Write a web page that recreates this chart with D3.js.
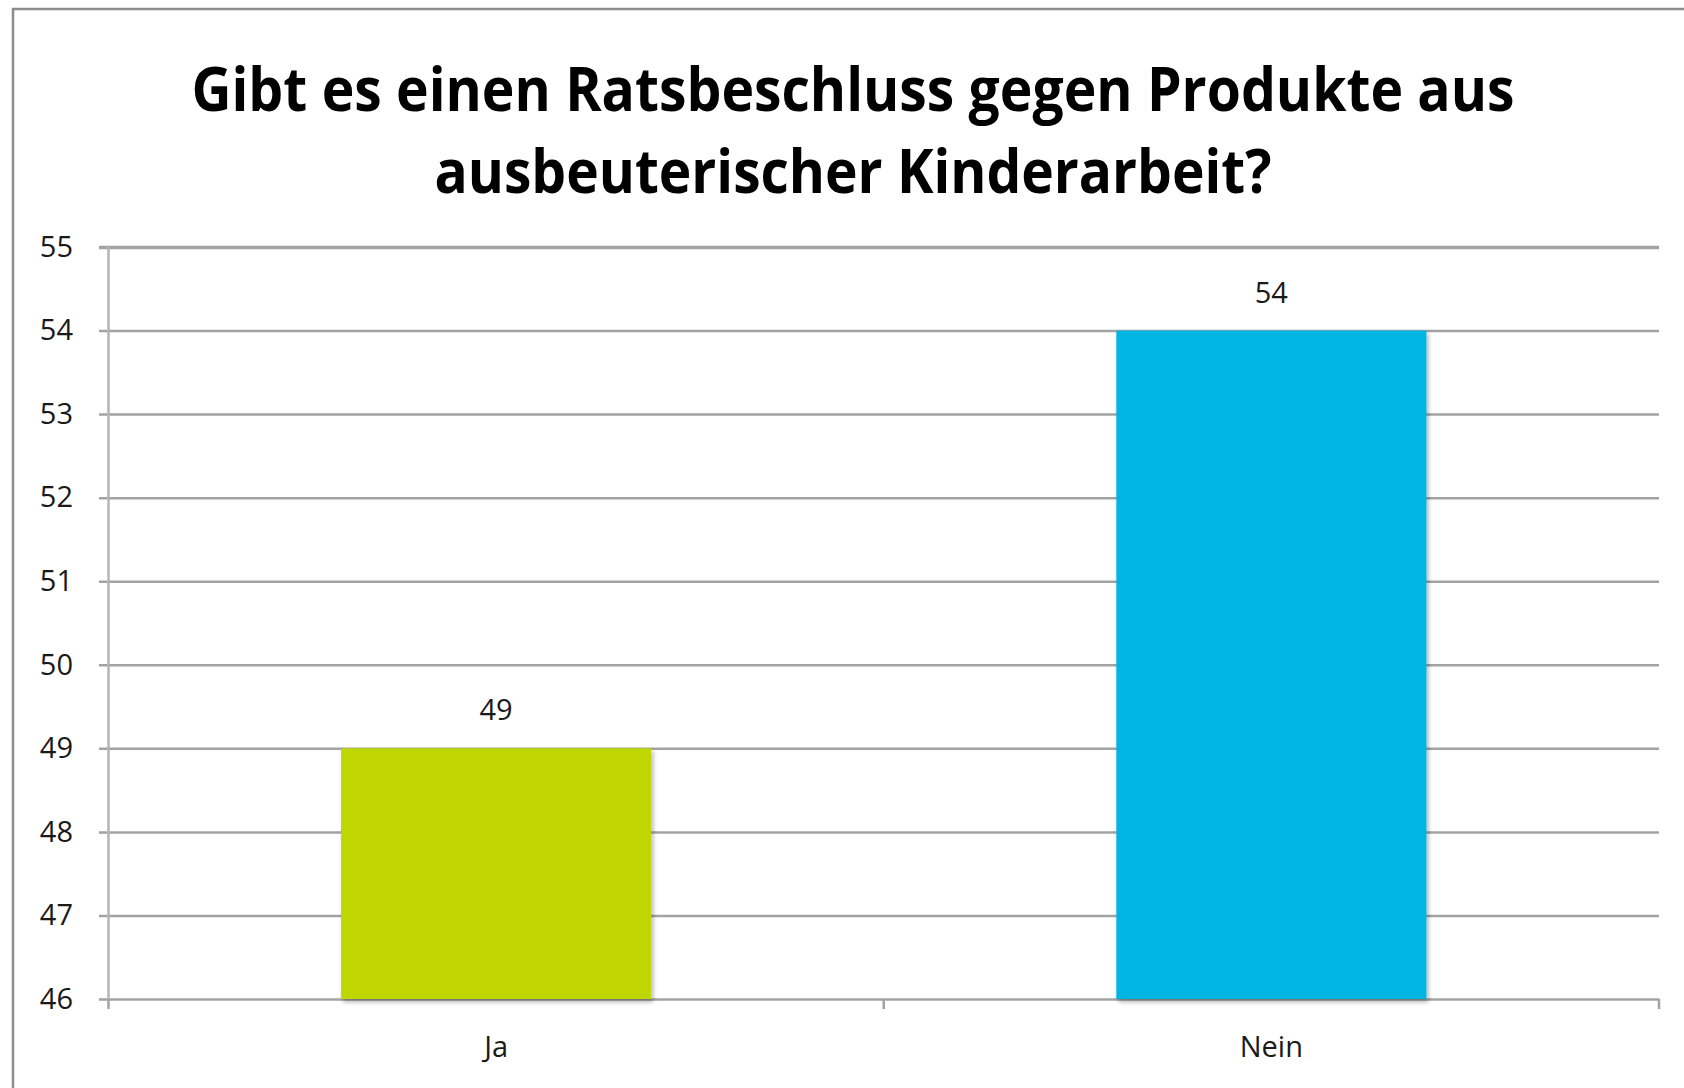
<!DOCTYPE html>
<html>
<head>
<meta charset="utf-8">
<script src="https://cdn.jsdelivr.net/npm/d3@7"></script>
<style>
  body { margin: 0; background: #fff; }
  text { font-family: "Open Sans", "DejaVu Sans", sans-serif; }
</style>
</head>
<body>
<svg id="chart" width="1684" height="1088"></svg>
<script>
// Chart data
var categories = ["Ja", "Nein"];
var values = [49, 54];
var barColors = ["#bfd600", "#00b5e2"];
var yTicks = [46, 47, 48, 49, 50, 51, 52, 53, 54, 55];
var titleLines = ["Gibt es einen Ratsbeschluss gegen Produkte aus", "ausbeuterischer Kinderarbeit?"];

var svg = d3.select("#chart");
var svgWidth = +svg.attr("width");
var svgHeight = +svg.attr("height");

// Plot area
var margin = {top: 247, left: 108.5, bottom: 89, right: 25};
var width = svgWidth - margin.left - margin.right;
var bottom = svgHeight - margin.bottom;

// Chart frame (only top and left visible)
svg.append("path")
    .attr("d", "M13," + svgHeight + "V9H" + svgWidth)
    .attr("fill", "none")
    .attr("stroke", "#8c8c8c")
    .attr("stroke-width", 2.5);

// Title
svg.selectAll(".title")
    .data(titleLines)
    .enter()
    .append("text")
    .attr("class", "title")
    .attr("x", 853)
    .attr("y", function(d, i) { return 111 + i * 82; })
    .attr("text-anchor", "middle")
    .attr("font-size", 60)
    .attr("font-weight", "bold")
    .attr("fill", "#000")
    .attr("textLength", function(d, i) { return i === 0 ? 1323 : 837; })
    .attr("lengthAdjust", "spacingAndGlyphs")
    .text(function(d) { return d; });

// Scales
var xScale = d3.scaleBand()
    .domain(categories)
    .range([margin.left, margin.left + width])
    .paddingInner(0.6)
    .paddingOuter(0.3);

var yScale = d3.scaleLinear()
    .domain([46, 55])
    .range([bottom, margin.top]);

// Y axis with gridlines
var yAxis = d3.axisLeft(yScale)
    .tickValues(yTicks)
    .tickSizeInner(-(width + 9.5))
    .tickSizeOuter(0)
    .tickPadding(26);

var yAxisG = svg.append("g")
    .attr("transform", "translate(" + (margin.left - 9.5) + ",0)")
    .call(yAxis);

yAxisG.select(".domain").remove();
yAxisG.selectAll("line")
    .attr("stroke", "#a3a3a3")
    .attr("stroke-width", function(d) { return d === 55 ? 3.5 : 2.5; });
yAxisG.selectAll("text")
    .attr("font-size", 29)
    .attr("fill", "#1a1a1a")
    .attr("font-family", "'Open Sans', sans-serif");

// Vertical axis line
svg.append("line")
    .attr("x1", margin.left).attr("x2", margin.left)
    .attr("y1", margin.top).attr("y2", bottom + 2)
    .attr("stroke", "#b5b5b5")
    .attr("stroke-width", 2.5);

// Category ticks at band boundaries
var step = xScale.step();
var boundaries = [margin.left].concat(categories.map(function(c) {
    return xScale(c) + xScale.bandwidth() / 2 + step / 2;
}));
svg.selectAll(".xtick")
    .data(boundaries)
    .enter()
    .append("line")
    .attr("class", "xtick")
    .attr("x1", function(d) { return d; })
    .attr("x2", function(d) { return d; })
    .attr("y1", bottom)
    .attr("y2", bottom + 10)
    .attr("stroke", "#a3a3a3")
    .attr("stroke-width", 2.5);

// Bar shadow
var defs = svg.append("defs");
var filter = defs.append("filter").attr("id", "shadow")
    .attr("x", "-5%").attr("y", "-5%").attr("width", "115%").attr("height", "115%");
filter.append("feDropShadow")
    .attr("dx", 2).attr("dy", 3)
    .attr("stdDeviation", 2)
    .attr("flood-color", "#000")
    .attr("flood-opacity", 0.3);

// Bars
svg.selectAll(".bar")
    .data(values)
    .enter()
    .append("rect")
    .attr("class", "bar")
    .attr("x", function(d, i) { return xScale(categories[i]); })
    .attr("y", function(d) { return yScale(d); })
    .attr("width", xScale.bandwidth())
    .attr("height", function(d) { return bottom - yScale(d); })
    .attr("fill", function(d, i) { return barColors[i]; })
    .attr("filter", "url(#shadow)");

// Value labels
svg.selectAll(".value")
    .data(values)
    .enter()
    .append("text")
    .attr("class", "value")
    .attr("x", function(d, i) { return xScale(categories[i]) + xScale.bandwidth() / 2; })
    .attr("y", function(d) { return yScale(d) - 38; })
    .attr("dy", "0.35em")
    .attr("text-anchor", "middle")
    .attr("font-size", 29)
    .attr("fill", "#1a1a1a")
    .text(function(d) { return d; });

// Category labels
svg.selectAll(".cat")
    .data(categories)
    .enter()
    .append("text")
    .attr("class", "cat")
    .attr("x", function(d) { return xScale(d) + xScale.bandwidth() / 2; })
    .attr("y", bottom + 48)
    .attr("dy", "0.35em")
    .attr("text-anchor", "middle")
    .attr("font-size", 29)
    .attr("fill", "#1a1a1a")
    .text(function(d) { return d; });
</script>
</body>
</html>
